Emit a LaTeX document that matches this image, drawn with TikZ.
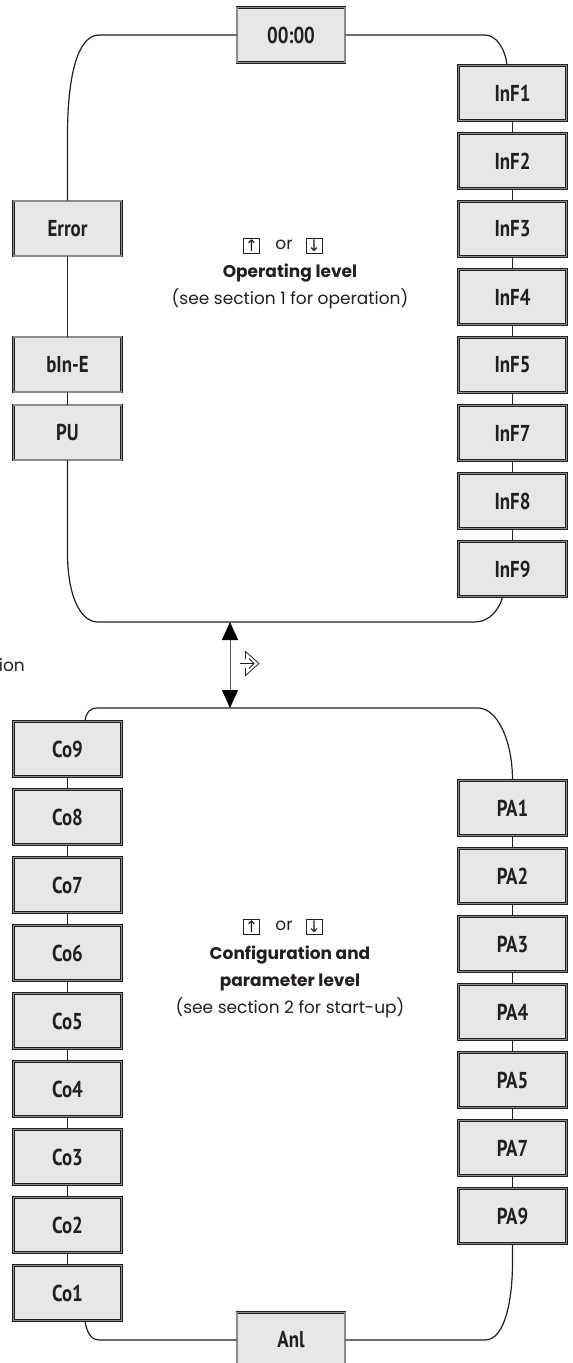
\documentclass[tikz,border=0pt]{standalone}
\usepackage{fontspec}
\setmainfont{Poppins}
\newfontfamily\boxfont[FakeStretch=0.82]{PT Sans}
\newfontfamily\symfont{DejaVu Sans}
\usetikzlibrary{arrows.meta}
\definecolor{boxfill}{HTML}{E6E7E8}
\definecolor{boxline}{HTML}{231F20}
\definecolor{boxmid}{HTML}{8C8C8C}
\begin{document}
\begin{tikzpicture}[x=1pt,y=-1pt,
  menubox/.style={draw=boxline, line width=0.7pt, double=boxmid, double distance=1.4pt,
    fill=boxfill, minimum width=108pt, minimum height=55pt, inner sep=0pt,
    font=\boxfont\bfseries\fontsize{23}{23}\selectfont, text=boxline},
  conn/.style={draw=boxline, line width=1.2pt},
  lbl/.style={align=center, font=\fontsize{17}{27}\selectfont, text=boxline},
  keybox/.style={draw=boxline, line width=0.6pt, minimum width=16pt, minimum height=15.5pt,
    inner sep=0pt, font=\symfont\fontsize{16}{16}\selectfont, text=boxline},
  sym/.style={draw=boxline, line width=0.8pt, line join=miter},
  dbl/.style={draw=gray!70!black, line width=1pt,
    {Triangle[width=16pt,length=18pt,color=black]}-{Triangle[width=16pt,length=18pt,color=black]}}]
\useasboundingbox (0,0) rectangle (573,1363);
% upper loop
\node[menubox] (t0) at (291,35) {00:00};
\node[menubox] (i1) at (512.5,93) {InF1};
\node[menubox] (i2) at (512.5,161) {InF2};
\node[menubox] (i3) at (512.5,229) {InF3};
\node[menubox] (i4) at (512.5,297) {InF4};
\node[menubox] (i5) at (512.5,365) {InF5};
\node[menubox] (i7) at (512.5,433) {InF7};
\node[menubox] (i8) at (512.5,501) {InF8};
\node[menubox] (i9) at (512.5,569) {InF9};
\node[menubox] (err) at (67.5,228.5) {Error};
\node[menubox] (bin) at (67.5,364.5) {bIn-E};
\node[menubox] (pu) at (67.5,432.5) {PU};
% lower loop
\node[menubox] (c9) at (67.5,749) {Co9};
\node[menubox] (c8) at (67.5,817) {Co8};
\node[menubox] (c7) at (67.5,885) {Co7};
\node[menubox] (c6) at (67.5,953) {Co6};
\node[menubox] (c5) at (67.5,1021) {Co5};
\node[menubox] (c4) at (67.5,1089) {Co4};
\node[menubox] (c3) at (67.5,1157) {Co3};
\node[menubox] (c2) at (67.5,1225) {Co2};
\node[menubox] (c1) at (67.5,1293) {Co1};
\node[menubox] (p1) at (512.5,808) {PA1};
\node[menubox] (p2) at (512.5,876) {PA2};
\node[menubox] (p3) at (512.5,944) {PA3};
\node[menubox] (p4) at (512.5,1012) {PA4};
\node[menubox] (p5) at (512.5,1080) {PA5};
\node[menubox] (p7) at (512.5,1148) {PA7};
\node[menubox] (p9) at (512.5,1216) {PA9};
\node[menubox] (anl) at (291,1340) {Anl};
% texts
\node[keybox] (ku1) at (251.5,246) {↑};
\node[lbl, inner sep=0pt] (or1) at (284,245) {or};
\node[keybox] (kd1) at (314,246) {↓};
\node[lbl] (ltop) at (290,286) {\textbf{Operating level}\\ (see section 1 for operation)};
\node[keybox] (ku2) at (251.5,927) {↑};
\node[lbl, inner sep=0pt] (or2) at (284,926) {or};
\node[keybox] (kd2) at (314,927) {↓};
\node[lbl] (lbot) at (290,981.5) {\textbf{Configuration and}\\ \textbf{parameter level}\\ (see section 2 for start-up)};
\node[lbl, anchor=east, inner sep=0pt] (ion) at (25,665) {ion};
% upper loop connectors
\draw[conn] (t0.west) -- (99,35) .. controls (78,35) and (67.5,75) .. (67.5,135) -- (err.north);
\draw[conn] (t0.east) -- (485,35) .. controls (496,35) and (505,48) .. ([xshift=-5.5pt]i1.north);
\foreach \a/\b in {i1/i2,i2/i3,i3/i4,i4/i5,i5/i7,i7/i8,i8/i9,err/bin,bin/pu}
  \draw[conn] (\a.south) -- (\b.north);
\draw[conn] (pu.south) -- (67.5,553) .. controls (67.5,595) and (80,622) .. (98,622)
  -- (475,622) .. controls (490,622) and (500,608) .. ([xshift=-10pt]i9.south);
% lower loop connectors
\draw[conn] ([xshift=17.5pt]c9.north) .. controls (86,712) and (90,708) .. (98,708)
  -- (478,708) .. controls (497,708) and (512.5,740) .. (p1.north);
\foreach \a/\b in {c9/c8,c8/c7,c7/c6,c6/c5,c5/c4,c4/c3,c3/c2,c2/c1,p1/p2,p2/p3,p3/p4,p4/p5,p5/p7,p7/p9}
  \draw[conn] (\a.south) -- (\b.north);
\draw[conn] ([xshift=17.5pt]c1.south) .. controls (87,1334) and (92,1340) .. (99,1340) -- (anl.west);
\draw[conn] (anl.east) -- (485,1340) .. controls (505,1340) and (512.5,1300) .. (512.5,1262) -- (p9.south);
% level switch arrow
\coordinate (aTop) at (230,622);
\coordinate (aBot) at (230,708);
\draw[dbl] (aTop) -- (aBot);
\draw[sym] (245.5,659) -- (245.5,651.5) -- (259,663.5) -- (245.5,675.5) -- (245.5,668);
\draw[sym] (240,663.5) -- (254,663.5);
\draw[sym] (249,658.5) -- (254,663.5) -- (249,668.5);
\end{tikzpicture}
\end{document}
